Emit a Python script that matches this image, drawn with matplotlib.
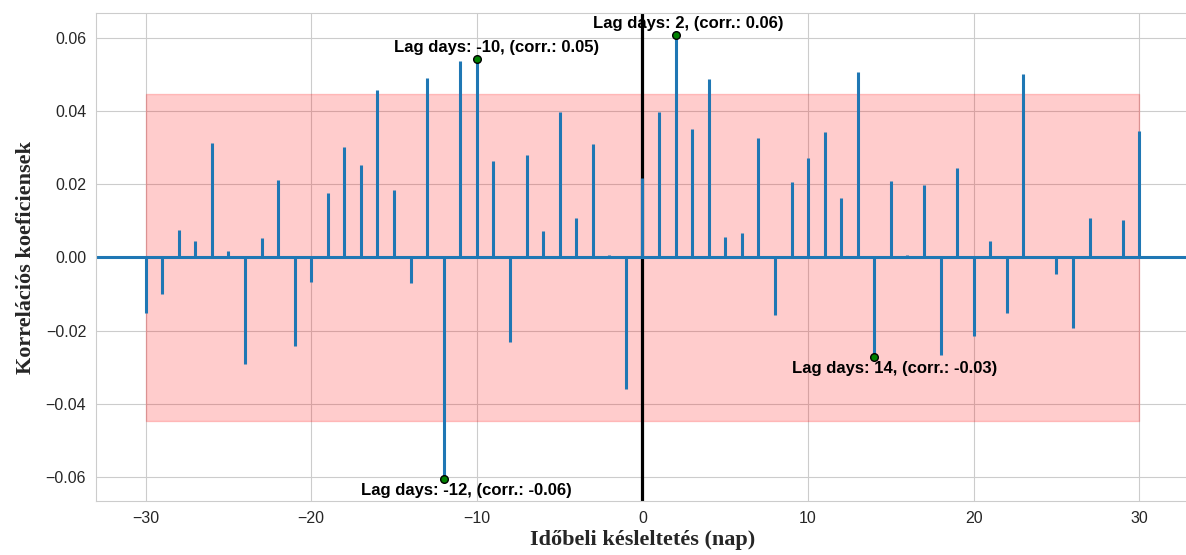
import numpy as np
import matplotlib
matplotlib.use("Agg")
import matplotlib.pyplot as plt
import seaborn as sns

# cross-correlation coefficients for lags -30..30 days
lags = np.arange(-30, 31)
corr = [
    -0.0153, -0.0101, 0.0075, 0.0046, 0.0312, 0.0018, -0.0291, 0.0052, 0.0211, -0.0241,
    -0.0068, 0.0176, 0.0303, 0.0252, 0.0457, 0.0185, -0.0071, 0.0492, -0.0606, 0.0536,
    0.0542, 0.0265, -0.0230, 0.0279, 0.0072, 0.0399, 0.0109, 0.0309, 0.0007, -0.0359,
    0.0217,
    0.0399, 0.0607, 0.0352, 0.0489, 0.0055, 0.0066, 0.0326, -0.0156, 0.0206, 0.0272,
    0.0342, 0.0162, 0.0506, -0.0271, 0.0209, 0.0006, 0.0199, -0.0268, 0.0246, -0.0214,
    0.0046, -0.0153, 0.0502, 0.0005, -0.0046, -0.0194, 0.0109, -0.0002, 0.0103, 0.0346,
]
conf_level = 0.0448

# lags highlighted with a marker and a label
top_lags = [-10, 2]
bottom_lags = [-12, 14]

sns.set_style("whitegrid")
plt.rcParams['font.family'] = ['Liberation Sans', 'DejaVu Sans']

corr = np.array(corr)

fig = plt.figure(figsize=(11.86, 5.55), dpi=100)
ax = fig.add_axes([0.0809, 0.0968, 0.9216, 0.8792])

ax.fill_between(lags, -conf_level, conf_level, color='red', alpha=0.2)
ax.axvline(0, color='black', lw=2.3)
ax.vlines(lags, 0, corr, color='#1f77b4', lw=2.2)
ax.axhline(0, color='#1f77b4', lw=2.2)

for lag in top_lags + bottom_lags:
    val = corr[lags == lag][0]
    ax.plot(lag, val, 'o', color='green', mec='black', ms=5.5, mew=1, zorder=4)
    if lag in top_lags:
        offset, va = 7, 'baseline'
    else:
        offset, va = -4, 'top'
    ax.annotate(f"Lag days: {lag}, (corr.: {val:.2f})", xy=(lag - 5, val),
                xytext=(0, offset), textcoords='offset pixels',
                ha='left', va=va, fontsize=12, fontweight='bold', color='black',
                zorder=5)

ax.set_xlim(-33, 33)
ax.set_xticks([-30, -20, -10, 0, 10, 20, 30])
ax.set_yticks([-0.06, -0.04, -0.02, 0.0, 0.02, 0.04, 0.06])
ax.set_yticklabels([f"{t:.2f}".replace('-', '\u2212') for t in ax.get_yticks()])
ax.tick_params(length=0, pad=7, labelsize=11.5, colors='#262626')

ax.set_xlabel("Időbeli késleltetés (nap)", fontsize=16, fontweight='bold',
              family='Liberation Serif', labelpad=3, color='#262626')
ax.set_ylabel("Korrelációs koeficiensek", fontsize=16, fontweight='bold',
              family='Liberation Serif', labelpad=7, color='#262626')

fig.savefig("out.png", dpi=100)
